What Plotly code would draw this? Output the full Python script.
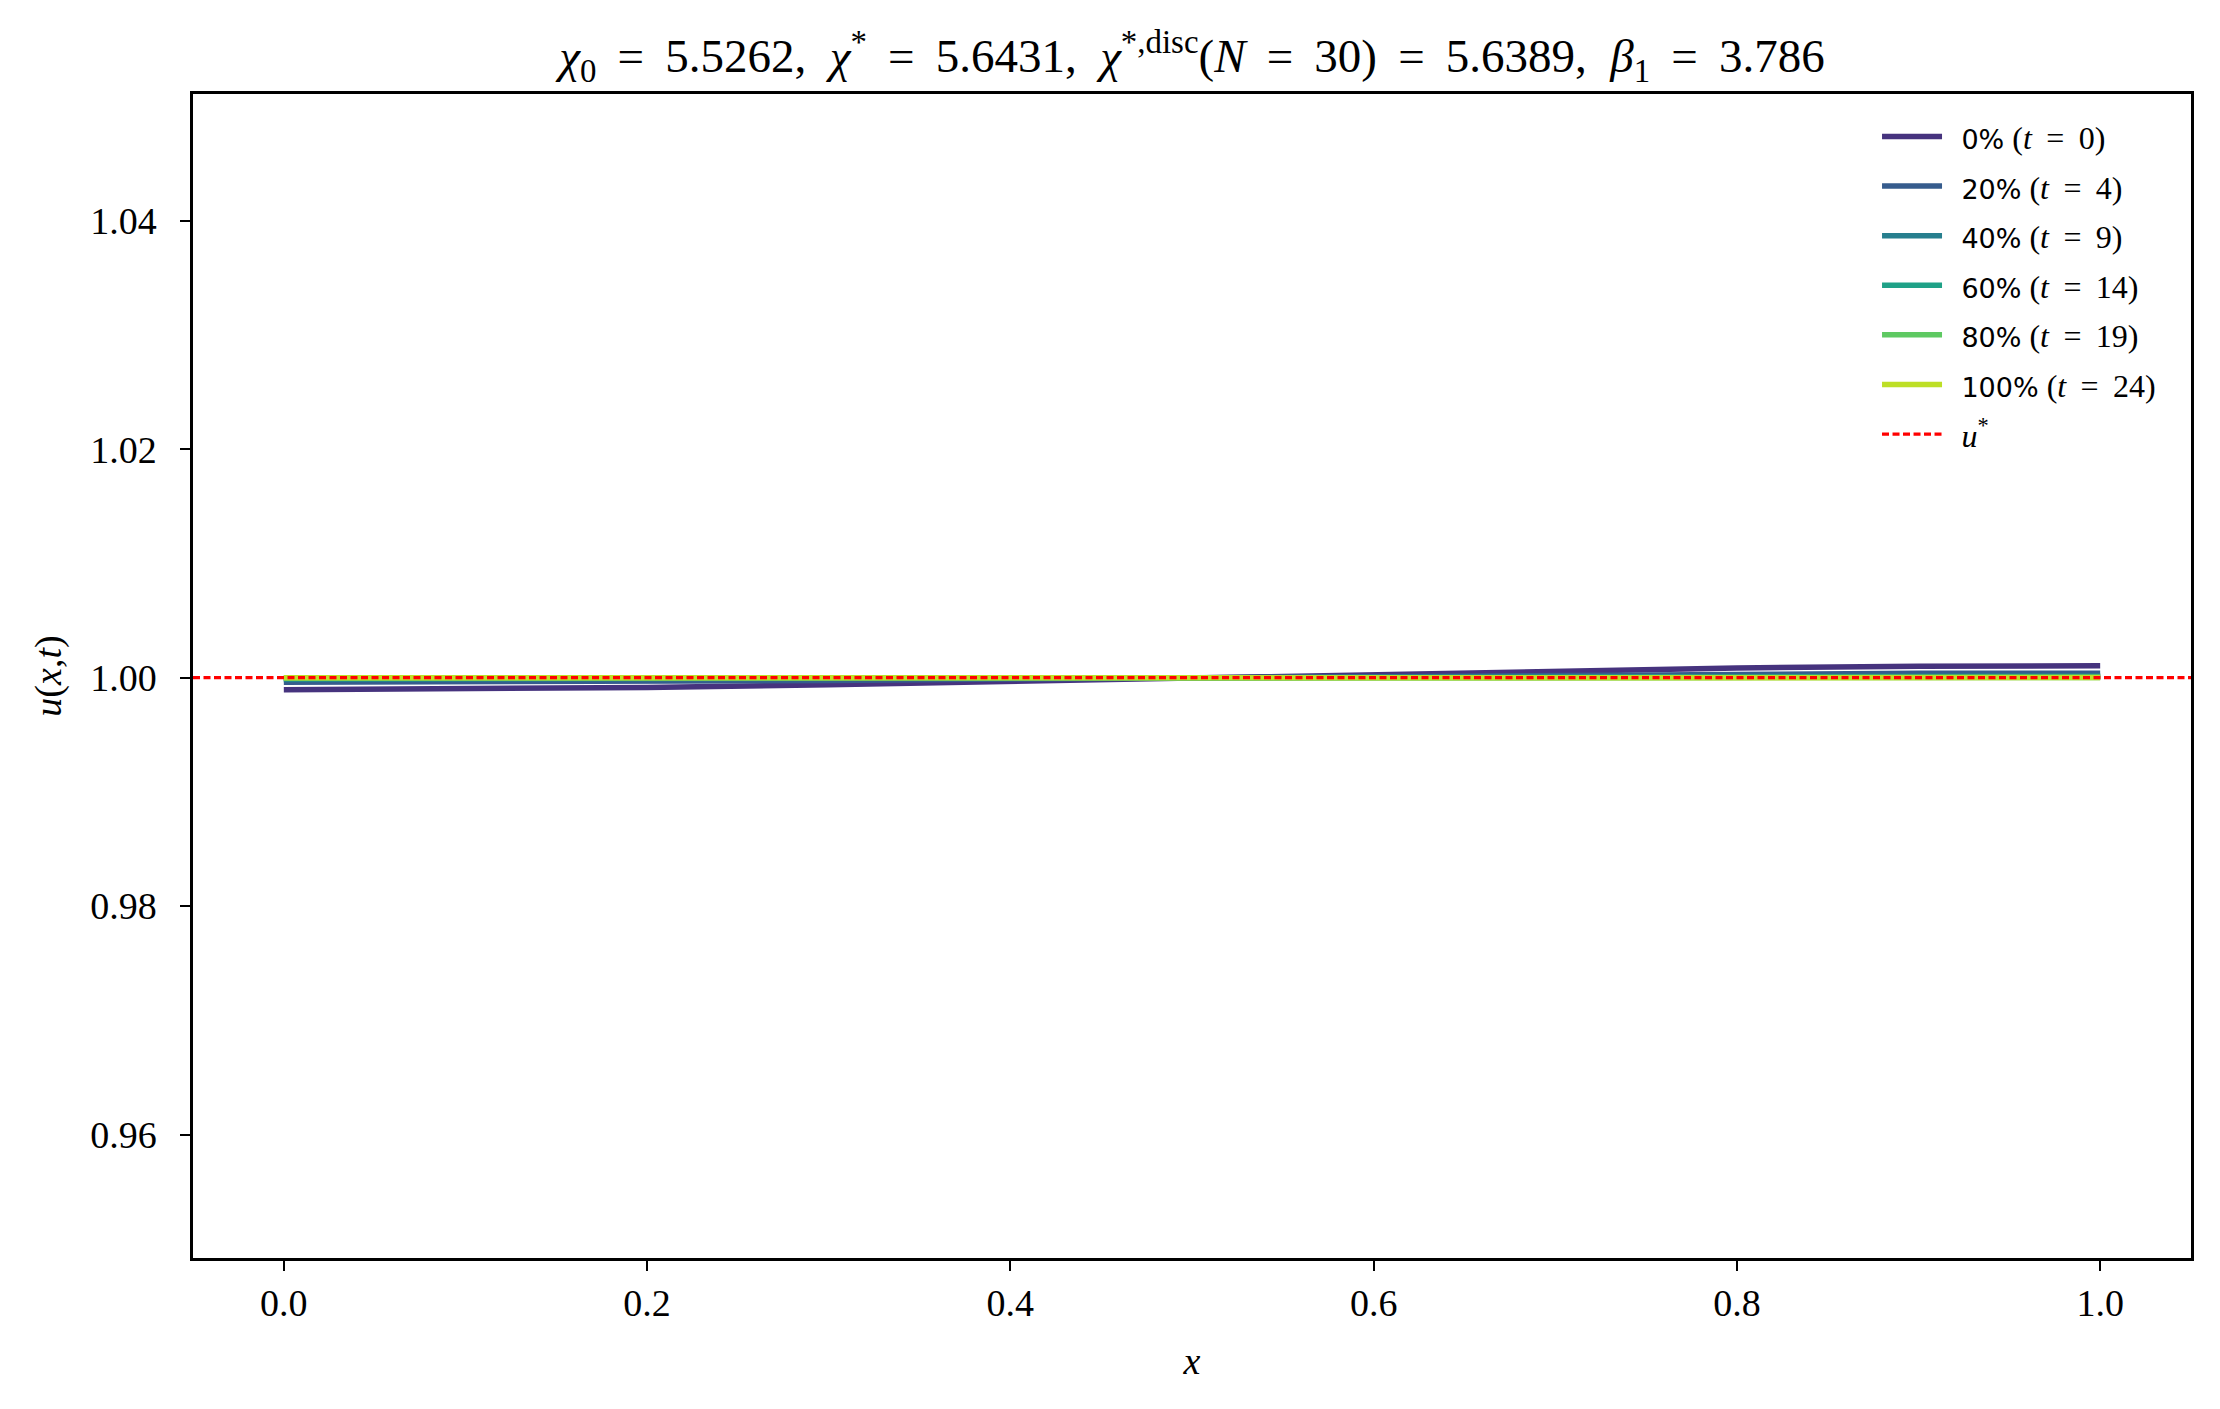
import plotly.graph_objects as go

# grid and snapshots
x = [0.0, 0.1, 0.2, 0.3, 0.4, 0.5, 0.6, 0.7, 0.8, 0.9, 1.0]
u_t0 = [0.99895, 0.99900, 0.99915, 0.99938, 0.99968, 1.00000, 1.00032, 1.00062, 1.00085, 1.00100, 1.00105]
u_t4 = [0.99960, 0.99962, 0.99968, 0.99976, 0.99988, 1.00000, 1.00012, 1.00024, 1.00032, 1.00038, 1.00040]
u_t9 = [0.99985, 0.99986, 0.99988, 0.99991, 0.99995, 1.00000, 1.00005, 1.00009, 1.00012, 1.00014, 1.00015]
u_t14 = [0.99994, 0.99994, 0.99995, 0.99996, 0.99998, 1.00000, 1.00002, 1.00004, 1.00005, 1.00006, 1.00006]
u_t19 = [0.99998, 0.99998, 0.99998, 0.99999, 0.99999, 1.00000, 1.00001, 1.00001, 1.00002, 1.00002, 1.00002]
u_t24 = [0.99999, 0.99999, 0.99999, 1.00000, 1.00000, 1.00000, 1.00000, 1.00000, 1.00001, 1.00001, 1.00001]
snapshots = [u_t0, u_t4, u_t9, u_t14, u_t19, u_t24]
pcts = [0, 20, 40, 60, 80, 100]
times = [0, 4, 9, 14, 19, 24]
colors = ['#46337e', '#365c8d', '#277f8e', '#1fa187', '#5ec962', '#bddf26']
u_star = 1.0
x_range = [-0.05, 1.05]
y_range = [0.9492, 1.0511]

SERIF = "Liberation Serif"
SANS = "DejaVu Sans"
SP = "&nbsp;"
TH = "\u2009"
eq = f'{TH}{SP}={SP}{TH}'

fig = go.Figure()

for i, (u, p, t, c) in enumerate(zip(snapshots, pcts, times, colors)):
    fig.add_trace(go.Scatter(
        x=x, y=u, mode='lines',
        line=dict(color=c, width=5.5),
        legendgroup=str(i),
        name=(f'{SP}{TH}<span style="font-family:{SANS};font-size:27px">{p}%</span>'
              f' (<i>t</i>{eq}{t})')
    ))

# u* reference line
fig.add_trace(go.Scatter(
    x=x_range, y=[u_star, u_star], mode='lines',
    line=dict(color='red', width=3.3, dash='7px,3.5px'),
    legendgroup='ref',
    name=f'{SP}{TH}<i>u</i><sup>*</sup>'
))

title = (f'<i>χ</i><sub>0</sub>{eq}5.5262,{SP}{SP}<i>χ</i><sup>*</sup>{eq}5.6431,{SP}{SP}'
         f'<i>χ</i><sup>*,disc</sup>(<i>N</i>{eq}30){eq}5.6389,{SP}{SP}'
         f'<i>β</i><sub>1</sub>{eq}3.786')

axis_style = dict(
    showline=True, linecolor='black', linewidth=2.5, mirror=True,
    ticks='outside', ticklen=10, tickwidth=2, tickcolor='black',
    showgrid=False, zeroline=False,
    tickfont=dict(family=SERIF, size=38, color='black'),
)

fig.update_layout(
    width=2220, height=1409,
    margin=dict(l=185, r=37, t=86, b=159),
    plot_bgcolor='white', paper_bgcolor='white',
    title=dict(text=title, xref='paper', x=0.5, xanchor='center', y=0.966, yanchor='middle',
               font=dict(family=SERIF, size=47, color='black')),
    legend=dict(x=0.985, xanchor='right', y=0.987, yanchor='top',
                bgcolor='rgba(0,0,0,0)', font=dict(family=SERIF, size=32, color='black'),
                tracegroupgap=5, itemwidth=60),
    showlegend=True,
)
fig.update_xaxes(axis_style, range=x_range, tickvals=[0, 0.2, 0.4, 0.6, 0.8, 1.0],
                 tickformat='.1f', ticklabelstandoff=0,
                 title=dict(text='<i>x</i>', font=dict(family=SERIF, size=38, color='black'),
                            standoff=25))
fig.update_yaxes(axis_style, range=y_range, tickvals=[0.96, 0.98, 1.00, 1.02, 1.04],
                 tickformat='.2f', ticklabelstandoff=16,
                 title=dict(text='<i>u</i>(<i>x</i>,<i>t</i>)',
                            font=dict(family=SERIF, size=38, color='black'), standoff=17))

fig.write_html("out.html")
